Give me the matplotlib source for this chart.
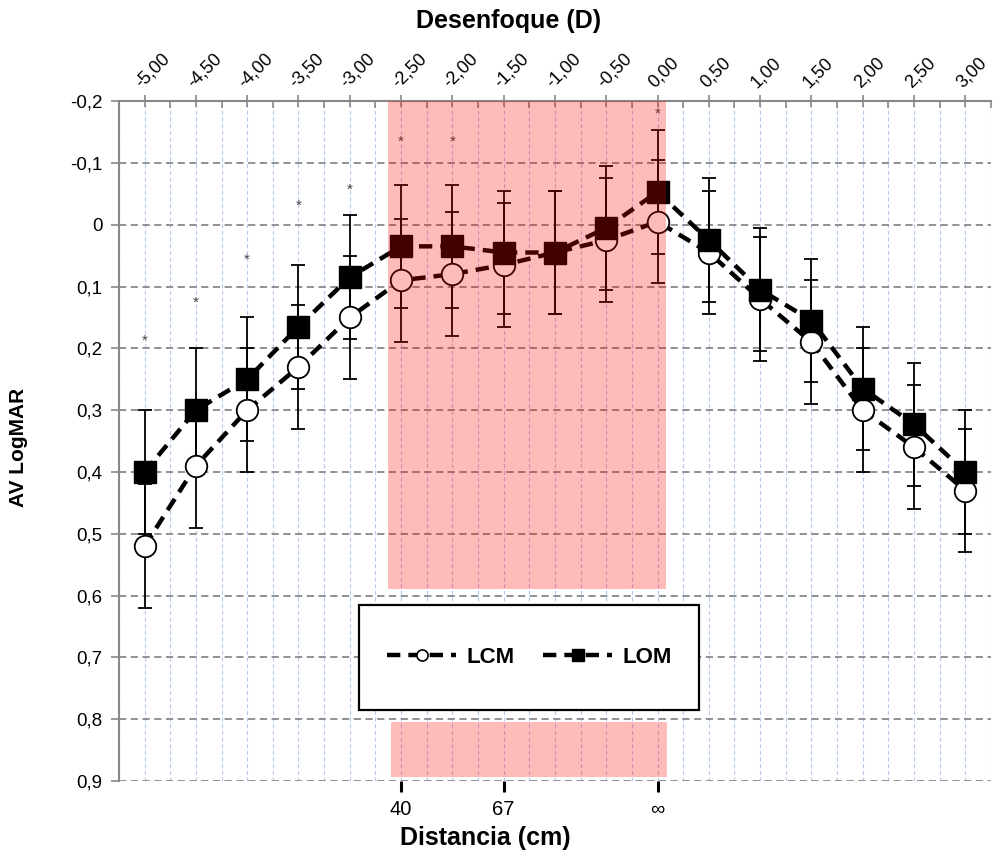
import matplotlib
matplotlib.use("Agg")
import matplotlib.pyplot as plt
from matplotlib.ticker import MultipleLocator
from matplotlib.lines import Line2D
from matplotlib.patches import Rectangle

plt.rcParams['font.family'] = ['Liberation Sans', 'DejaVu Sans']

# datos
desenfoque = [-5.0, -4.5, -4.0, -3.5, -3.0, -2.5, -2.0, -1.5, -1.0, -0.5,
              0.0, 0.5, 1.0, 1.5, 2.0, 2.5, 3.0]
etiquetas_sup = ["-5,00", "-4,50", "-4,00", "-3,50", "-3,00", "-2,50", "-2,00",
                 "-1,50", "-1,00", "-0,50", "0,00", "0,50", "1,00", "1,50",
                 "2,00", "2,50", "3,00"]
lcm = [0.52, 0.39, 0.30, 0.23, 0.15, 0.09, 0.08, 0.065, 0.045, 0.025,
       -0.005, 0.045, 0.12, 0.19, 0.30, 0.36, 0.43]
lom = [0.40, 0.30, 0.25, 0.165, 0.085, 0.035, 0.035, 0.045, 0.045, 0.005,
       -0.053, 0.025, 0.105, 0.155, 0.265, 0.323, 0.40]
err_lcm = [0.10] * 17
err_lom = [0.10] * 17

# asteriscos de significacion
ast_x = [-5.0, -4.5, -4.0, -3.5, -3.0, -2.5, -2.0, 0.0]
ast_y = [0.187, 0.127, 0.056, -0.030, -0.057, -0.134, -0.134, -0.180]

yticks = [-0.2, -0.1, 0.0, 0.1, 0.2, 0.3, 0.4, 0.5, 0.6, 0.7, 0.8, 0.9]
ylabels = ["-0,2", "-0,1", "0", "0,1", "0,2", "0,3", "0,4", "0,5", "0,6",
           "0,7", "0,8", "0,9"]

dist_pos = [-2.5, -1.5, 0.0]
dist_labels = ["40", "67", "\u221e"]

fig = plt.figure(figsize=(10.04, 8.58), dpi=100)
ax = fig.add_axes([0.1185, 0.0897, 0.8685, 0.7925])
ax.set_xlim(-5.25, 3.25)
ax.set_ylim(0.9, -0.2)

gris = '#888888'

# rejilla
ax.xaxis.set_major_locator(MultipleLocator(0.5))
ax.xaxis.set_minor_locator(MultipleLocator(0.25))
ax.grid(True, which='both', axis='x', color='#b4c8ee', linestyle=(0, (3.5, 2.5)), lw=0.8, zorder=0)
ax.set_yticks(yticks)
ax.set_yticklabels(ylabels, fontsize=13.5)
ax.grid(True, which='major', axis='y', color=gris, linestyle=(0, (4, 2.5)), lw=1.3, zorder=0)
ax.set_axisbelow(True)

# series
guion = (0, (3, 1.8))
ax.errorbar(desenfoque, lcm, yerr=err_lcm, fmt='none', ecolor='black',
            elinewidth=1.3, capsize=5, capthick=1.3, zorder=3)
ax.errorbar(desenfoque, lom, yerr=err_lom, fmt='none', ecolor='black',
            elinewidth=1.3, capsize=5, capthick=1.3, zorder=3)
ax.plot(desenfoque, lcm, color='black', lw=3.2, linestyle=guion, marker='o',
        ms=15.5, mfc='white', mec='black', mew=1.3, zorder=4)
ax.plot(desenfoque, lom, color='black', lw=3.2, linestyle=guion, marker='s',
        ms=15.5, mfc='black', mec='black', mew=1.0, zorder=5)

for x, y in zip(ast_x, ast_y):
    ax.text(x, y, '*', ha='center', va='center', fontsize=11, color='#444444', zorder=5)

# zona sombreada
ax.add_patch(Rectangle((-2.625, -0.2), 2.71, 0.79, facecolor='red', alpha=0.27, lw=0, zorder=6))
ax.add_patch(Rectangle((-2.60, 0.805), 2.688, 0.088, facecolor='red', alpha=0.27, lw=0, zorder=6))

# leyenda
ax.add_patch(Rectangle((-2.912, 0.615), 3.317, 0.17, facecolor='white', edgecolor='black', lw=1.6, zorder=7))
h1 = Line2D([], [], color='black', lw=3.2, linestyle=guion, marker='o', ms=8, mfc='white', mec='black', mew=1.2)
h2 = Line2D([], [], color='black', lw=3.2, linestyle=guion, marker='s', ms=8, mfc='black', mec='black')
leg = ax.legend([h1, h2], ['LCM', 'LOM'], loc='center', bbox_to_anchor=(-1.25, 0.70),
                bbox_transform=ax.transData, ncol=2, frameon=False, handlelength=3.1,
                handletextpad=0.45, columnspacing=1.3, prop={'weight': 'bold', 'size': 16})
leg.set_zorder(8)

# ejes
ax.xaxis.tick_top()
ax.set_xticks(desenfoque)
ax.set_xticklabels(etiquetas_sup, rotation=45, ha='left', rotation_mode='anchor', fontsize=13)
ax.tick_params(axis='x', which='major', direction='inout', length=8, color=gris, width=1.2, pad=3)
ax.tick_params(axis='x', which='minor', direction='in', length=5, color=gris, width=1.2)
ax.tick_params(axis='y', direction='out', length=6, color=gris, width=1.2, pad=6)
for s in ['right', 'bottom']:
    ax.spines[s].set_visible(False)
for s in ['top', 'left']:
    ax.spines[s].set_color(gris)
    ax.spines[s].set_linewidth(1.5)

sec = ax.secondary_xaxis('bottom')
sec.set_xticks(dist_pos)
sec.set_xticklabels(dist_labels, fontsize=14.5)
sec.spines['bottom'].set_visible(False)
sec.tick_params(length=8, width=2.2, color='black', pad=6)

ax.set_ylabel('AV LogMAR', fontsize=15, fontweight='bold')
ax.yaxis.set_label_coords(-0.104, 0.49)
fig.text(0.507, 0.9755, 'Desenfoque (D)', ha='center', va='center', fontsize=18, fontweight='bold')
fig.text(0.483, 0.023, 'Distancia (cm)', ha='center', va='center', fontsize=18, fontweight='bold')

plt.savefig('out.png', dpi=100)
